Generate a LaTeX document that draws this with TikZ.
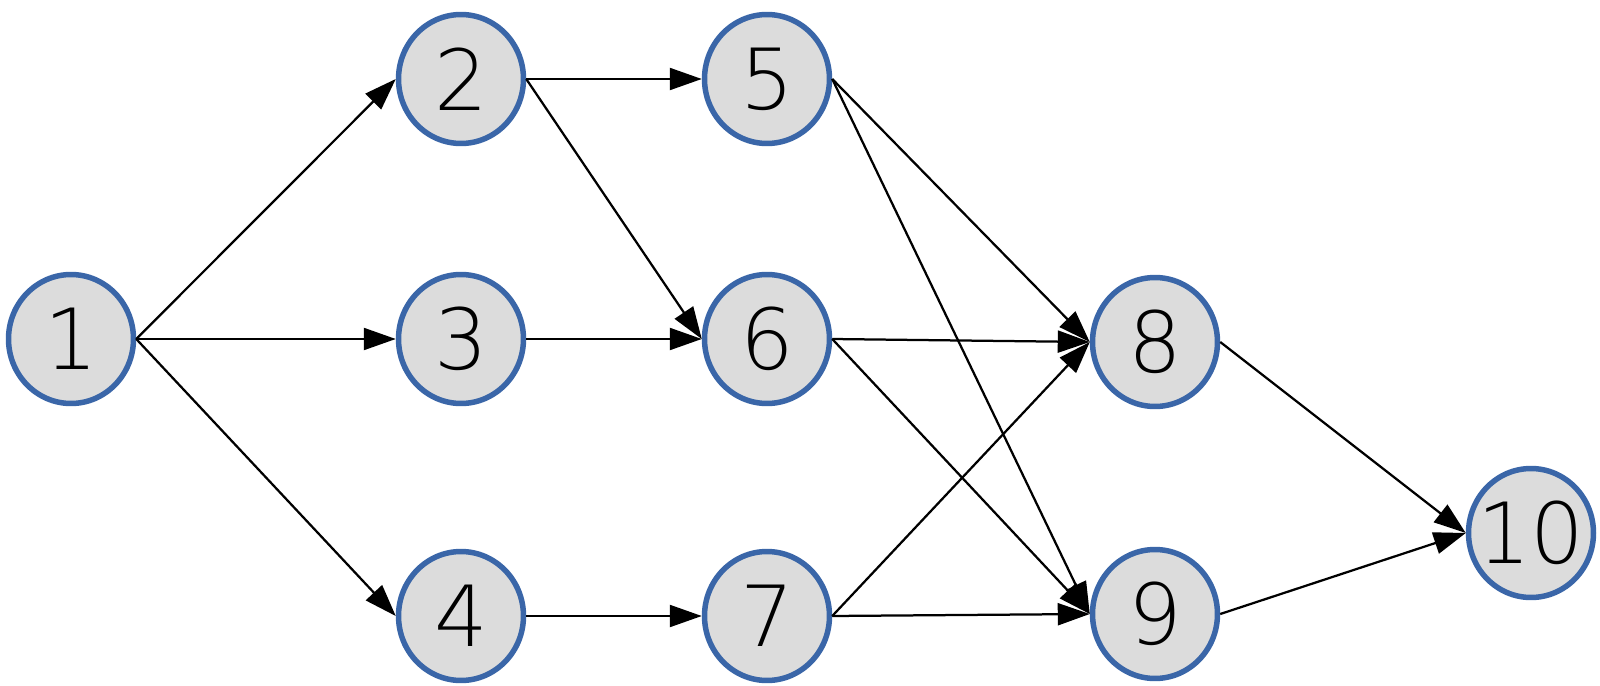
\documentclass[tikz,border=0pt]{standalone}
\usepackage{fontspec}
\setmainfont{DejaVu Sans ExtraLight}
\usepackage{tikz}
\usetikzlibrary{arrows.meta,shapes.geometric}
\definecolor{nodeblue}{HTML}{3A66A8}
\definecolor{nodegray}{HTML}{DCDCDC}

\begin{document}
\begin{tikzpicture}[x=0.02cm, y=-0.02cm, line width=0.045cm, >={Triangle[length=0.64cm, width=0.44cm]}]
\useasboundingbox (0,0) rectangle (1600,686);
\tikzstyle{every node} = [ellipse, draw=nodeblue, line width=0.11cm, fill=nodegray, minimum width=2.5cm, minimum height=2.58cm, inner sep=0cm, font=\fontsize{48}{50}\selectfont]
\node (n1) at (71,339) {1};
\node (n2) at (461,79) {2};
\node (n3) at (461,339) {3};
\node (n4) at (461,616) {4};
\node (n5) at (767,79) {5};
\node (n6) at (767,339) {6};
\node (n7) at (767,616) {7};
\node (n8) at (1155,342) {8};
\node (n9) at (1155,614) {9};
\node (n10) at (1531,533) {\makebox[0pt]{10}};
\draw[->] (n1.east) -- (n2.west);
\draw[->] (n1.east) -- (n3.west);
\draw[->] (n1.east) -- (n4.west);
\draw[->] (n2.east) -- (n5.west);
\draw[->] (n2.east) -- (n6.west);
\draw[->] (n3.east) -- (n6.west);
\draw[->] (n4.east) -- (n7.west);
\draw[->] (n5.east) -- (n8.west);
\draw[->] (n5.east) -- (n9.west);
\draw[->] (n6.east) -- (n8.west);
\draw[->] (n6.east) -- (n9.west);
\draw[->] (n7.east) -- (n8.west);
\draw[->] (n7.east) -- (n9.west);
\draw[->] (n8.east) -- (n10.west);
\draw[->] (n9.east) -- (n10.west);
\end{tikzpicture}
\end{document}
